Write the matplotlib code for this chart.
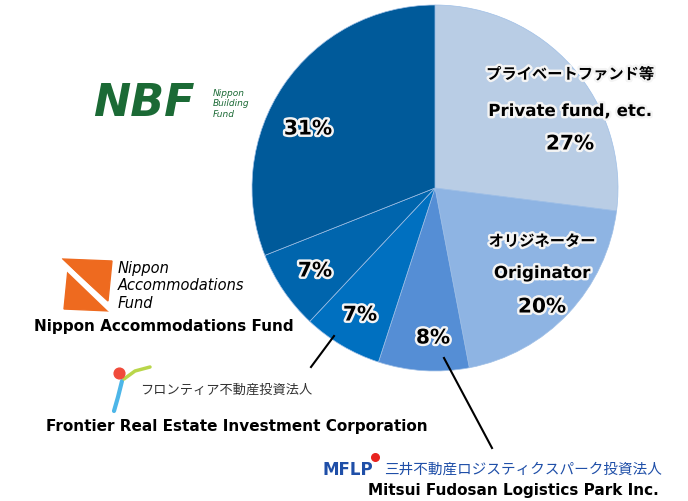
import matplotlib.pyplot as plt
import matplotlib.patheffects as pe

plt.rcParams['font.family'] = ['DejaVu Sans', 'Noto Sans CJK JP']

# Holder breakdown (clockwise from 12 o'clock)
shares = [27, 20, 8, 7, 7, 31]
colors = ['#b9cde5', '#8eb4e3', '#558ed5', '#0070c0', '#0065ad', '#005a9a']
pct_labels = ['27%', '20%', '8%', '7%', '7%', '31%']

H = 502
fig = plt.figure(figsize=(6.88, 5.02), dpi=100)
ax = fig.add_axes([0, 0, 1, 1])

ax.pie(shares, colors=colors, startangle=90, counterclock=False,
       center=(435, H - 189), radius=183,
       wedgeprops=dict(linewidth=0.5, edgecolor='#9fbfe6'))
ax.set_xlim(0, 688)
ax.set_ylim(0, H)
ax.set_aspect('equal')
ax.axis('off')

glow = [pe.withStroke(linewidth=3.5, foreground='#f4f4f4')]


def txt(x, y, s, **kw):
    return ax.text(x, H - y, s, ha='center', va='center', **kw)


# labels inside the pie
txt(570, 75, 'プライベートファンド等', fontsize=11, fontweight='bold',
    family='Noto Sans CJK JP', path_effects=glow)
txt(570, 112, 'Private fund, etc.', fontsize=12, fontweight='bold', path_effects=glow)
txt(542, 242, 'オリジネーター', fontsize=11, fontweight='bold',
    family='Noto Sans CJK JP', path_effects=glow)
txt(542, 274, 'Originator', fontsize=12, fontweight='bold', path_effects=glow)

pct_pos = [(570, 145), (542, 308), (433, 339), (360, 316), (315, 272), (308, 130)]
for (x, y), p in zip(pct_pos, pct_labels):
    txt(x, y, p, fontsize=14.5, fontweight='bold', path_effects=glow)

# NBF logo
ax.text(93, H - 104, 'NBF', fontsize=32, fontweight='heavy', style='italic',
        color='#1b6a35', ha='left', va='center')
ax.text(213, H - 104, 'Nippon\nBuilding\nFund', fontsize=6.5, style='italic',
        color='#1b6a35', ha='left', va='center', linespacing=1.25)

# Nippon Accommodations Fund logo
ax.fill([62, 112, 108], [H - 260, H - 262, H - 302], color='#ee6a1f')
ax.fill([64, 110, 68], [H - 310, H - 312, H - 270], color='#ee6a1f')
ax.plot([60, 112], [H - 262, H - 312], color='white', lw=4)
ax.text(118, H - 286, 'Nippon\nAccommodations\nFund', fontsize=10.5, style='italic',
        ha='left', va='center', linespacing=1.2)
txt(164, 327, 'Nippon Accommodations Fund', fontsize=11, fontweight='bold')

# Frontier
ax.plot([334, 311], [H - 337, H - 368], color='black', lw=1.5)
ax.scatter([119], [H - 374], s=60, color='#f04a3a', zorder=3)
ax.plot([122, 118, 114], [H - 382, H - 398, H - 412], color='#4db6e8', lw=3,
        solid_capstyle='round')
ax.plot([124, 135, 150], [H - 380, H - 372, H - 368], color='#b9d64a', lw=2.5,
        solid_capstyle='round')
ax.text(140, H - 390, 'フロンティア不動産投資法人', fontsize=9.5,
        family='Noto Sans CJK JP', ha='left', va='center', color='#333333')
txt(237, 427, 'Frontier Real Estate Investment Corporation', fontsize=11, fontweight='bold')

# Mitsui Fudosan Logistics Park
ax.plot([444, 492], [H - 359, H - 449], color='black', lw=1.5)
ax.scatter([375], [H - 458], s=30, color='#e8231f', zorder=3)
ax.text(322, H - 470, 'MFLP', fontsize=12, fontweight='heavy', color='#1f4fa8',
        ha='left', va='center')
ax.text(384, H - 470, '三井不動産ロジスティクスパーク投資法人', fontsize=10.5,
        family='Noto Sans CJK JP', color='#1f4fa8', ha='left', va='center')
txt(513, 491, 'Mitsui Fudosan Logistics Park Inc.', fontsize=11, fontweight='bold')

fig.savefig('out.png', dpi=100)
